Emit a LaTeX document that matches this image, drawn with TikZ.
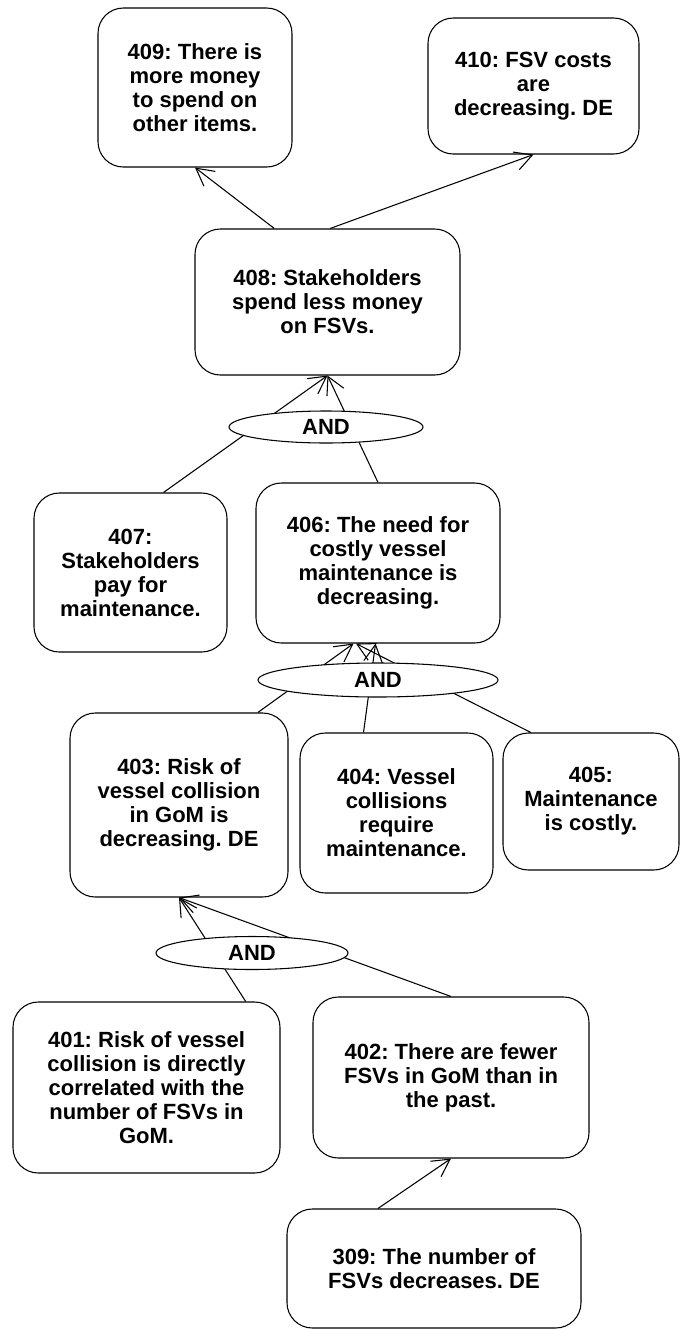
\documentclass[tikz,border=0pt]{standalone}
\usepackage{fontspec}
\setmainfont{Liberation Sans}
\frenchspacing
\usetikzlibrary{arrows.meta,shapes.geometric,calc}
\tikzset{
  claim/.style 2 args={draw, rounded corners=19pt, align=center, inner sep=0pt,
    minimum width=#1, minimum height=#2, font=\fontsize{16.5}{18}\selectfont\bfseries},
  andnode/.style 2 args={draw, ellipse, fill=white, inner sep=0pt,
    minimum width=#1, minimum height=#2, font=\fontsize{16.5}{18}\selectfont\bfseries},
  imply/.style={-{Straight Barb[length=13pt,width=14pt]}},
}
\begin{document}
\begin{tikzpicture}[x=0.75pt,y=0.75pt,yscale=-1,xscale=1,line width=0.8pt]
\useasboundingbox (0,0) rectangle (680,1329);

%Shape: Rounded Rect [claims]
\node[claim={145.5pt}{119.25pt}] (n409) at (195,87.5) {409: There is\\more money\\to spend on\\other items.};
\node[claim={158.25pt}{102pt}] (n410) at (533.5,86) {410: FSV costs\\are\\decreasing. DE};
\node[claim={198.75pt}{109.5pt}] (n408) at (327.5,302) {408: Stakeholders\\spend less money\\on FSVs.};
\node[claim={144.75pt}{119.25pt}] (n407) at (130.5,572.5) {407:\\Stakeholders\\pay for\\maintenance.};
\node[claim={183pt}{120pt}] (n406) at (378,563) {406: The need for\\costly vessel\\maintenance is\\decreasing.};
\node[claim={163.5pt}{138pt}] (n403) at (179,805) {403: Risk of\\vessel collision\\in GoM is\\decreasing. DE};
\node[claim={144.75pt}{120pt}] (n404) at (396.5,813) {404: Vessel\\collisions\\require\\maintenance.};
\node[claim={132pt}{102.75pt}] (n405) at (591,801.5) {405:\\Maintenance\\is costly.};
\node[claim={200.25pt}{128.25pt}] (n401) at (146.5,1087.5) {401: Risk of vessel\\collision is directly\\correlated with the\\number of FSVs in\\GoM.};
\node[claim={207pt}{120.75pt}] (n402) at (451,1077.5) {402: There are fewer\\FSVs in GoM than in\\the past.};
\node[claim={220.5pt}{89.25pt}] (n309) at (434,1268.5) {309: The number of\\FSVs decreases. DE};

%Straight Lines [implications]
\draw[imply] ($(n408.north west)!.30!(n408.north east)$) -- (n409.south);
\draw[imply] ($(n408.north west)!.51!(n408.north east)$) -- (n410.south);
\draw[imply] ($(n407.north west)!.67!(n407.north east)$) -- (n408.south);
\draw[imply] (n406.north) -- (n408.south);
\draw[imply] ($(n403.north west)!.86!(n403.north east)$) -- ($(n406.south west)!.40!(n406.south east)$);
\draw[imply] ($(n404.north west)!.33!(n404.north east)$) -- ($(n406.south west)!.49!(n406.south east)$);
\draw[imply] ($(n405.north west)!.16!(n405.north east)$) -- ($(n406.south west)!.41!(n406.south east)$);
\draw[imply] ($(n401.north west)!.87!(n401.north east)$) -- (n403.south);
\draw[imply] (n402.north) -- (n403.south);
\draw[imply] ($(n309.north west)!.31!(n309.north east)$) -- (n402.south);

%Shape: Ellipse [AND joins, drawn over the lines]
\node[andnode={145.5pt}{24pt}] (and1) at (326,427) {AND};
\node[andnode={180pt}{25.5pt}] (and2) at (378,680) {AND};
\node[andnode={144pt}{24.75pt}] (and3) at (252,953) {AND};

\end{tikzpicture}
\end{document}
